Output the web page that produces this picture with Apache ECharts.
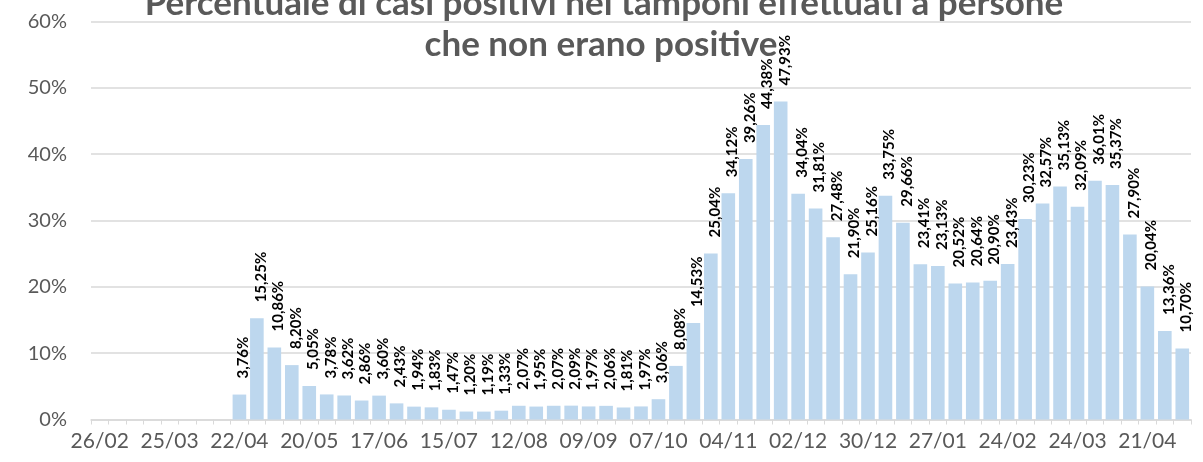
<!DOCTYPE html>
<html><head><meta charset="utf-8">
<script src="https://cdn.jsdelivr.net/npm/echarts@6/dist/echarts.min.js"></script>
<style>html,body{margin:0;padding:0;background:#fff}#c{width:1203px;height:462px}</style>
</head><body><div id="c"></div>
<script>
var categories = ['26/02','04/03','11/03','18/03','25/03','01/04','08/04','15/04','22/04','29/04','06/05','13/05','20/05','27/05','03/06','10/06','17/06','24/06','01/07','08/07','15/07','22/07','29/07','05/08','12/08','19/08','26/08','02/09','09/09','16/09','23/09','30/09','07/10','14/10','21/10','28/10','04/11','11/11','18/11','25/11','02/12','09/12','16/12','23/12','30/12','06/01','13/01','20/01','27/01','03/02','10/02','17/02','24/02','03/03','10/03','17/03','24/03','31/03','07/04','14/04','21/04','28/04','05/05'];
var positivePct = [null,null,null,null,null,null,null,null,
 3.76,15.25,10.86,8.20,5.05,3.78,3.62,2.86,3.60,2.43,1.94,1.83,1.47,1.20,1.19,1.33,2.07,1.95,2.07,2.09,1.97,2.06,1.81,1.97,3.06,8.08,14.53,25.04,34.12,39.26,44.38,47.93,34.04,31.81,27.48,21.90,25.16,33.75,29.66,23.41,23.13,20.52,20.64,20.90,23.43,30.23,32.57,35.13,32.09,36.01,35.37,27.90,20.04,13.36,10.70];
var yTicks = [0,10,20,30,40,50,60];
var titleLine1 = 'Percentuale di casi positivi nei tamponi effettuati a persone';
var titleLine2 = 'che non erano positive';

var titleStyle = {fontFamily:'Lato',fontWeight:'bold',fontSize:35,color:'#595959'};
var chart = echarts.init(document.getElementById('c'));
chart.setOption({
  animation:false,
  textStyle:{fontFamily:'Lato'},
  title:[
    {text:titleLine1,left:599,top:-19,textAlign:'center',textStyle:titleStyle},
    {text:titleLine2,left:596,top:22,textAlign:'center',textStyle:titleStyle}
  ],
  grid:{left:91,right:12,top:21.5,bottom:42.5,containLabel:false},
  xAxis:{type:'category',data:categories,boundaryGap:true,
    axisLine:{lineStyle:{color:'#d9d9d9',width:1.5}},
    axisTick:{show:true,interval:0,length:5,lineStyle:{color:'#d9d9d9'}},
    axisLabel:{interval:3,color:'#595959',fontSize:21,margin:11,fontFamily:'Lato'}},
  yAxis:{type:'value',min:yTicks[0],max:yTicks[yTicks.length-1],interval:10,
    axisLine:{show:false},axisTick:{show:false},
    splitLine:{lineStyle:{color:'#d9d9d9',width:1.5}},
    axisLabel:{color:'#595959',fontSize:20,margin:24,fontFamily:'Lato',formatter:function(v){return v+'%';}}},
  series:[{type:'bar',data:positivePct,barCategoryGap:'22%',
    itemStyle:{color:'#bdd7ee'},
    label:{show:true,position:'top',rotate:90,align:'left',verticalAlign:'middle',distance:16,offset:[0,4],
      fontFamily:'Lato',fontWeight:'bold',fontSize:15,color:'#000',
      formatter:function(p){return p.value==null?'':p.value.toFixed(2).replace('.',',')+'%';}}}]
});
</script></body></html>
